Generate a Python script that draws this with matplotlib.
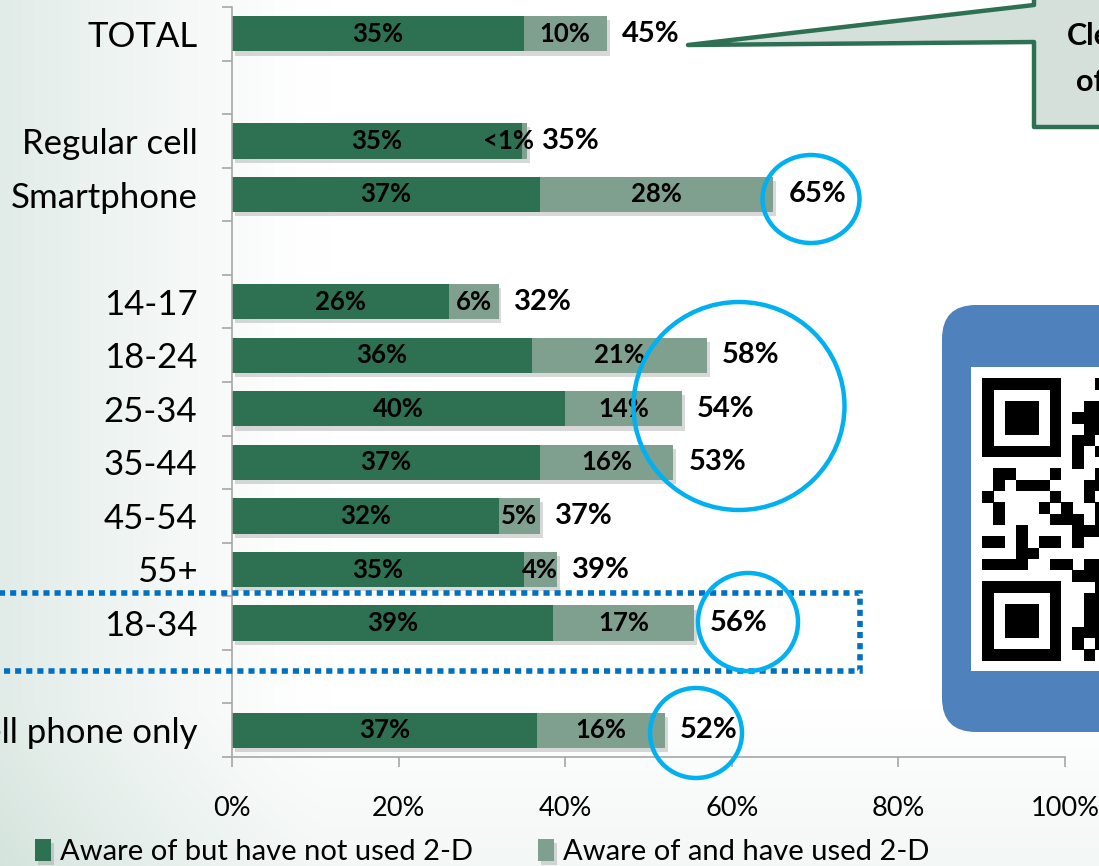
import numpy as np
import matplotlib
matplotlib.use('Agg')
import matplotlib.pyplot as plt
from matplotlib.patches import Polygon, Rectangle, Ellipse, FancyBboxPatch
import matplotlib.patheffects as pe

plt.rcParams['font.family'] = ['Lato', 'DejaVu Sans']

# chart data ('' = empty slot between groups)
categories = ['TOTAL', '', 'Regular cell', 'Smartphone', '', '14-17', '18-24', '25-34',
              '35-44', '45-54', '55+', '18-34', '', 'Cell phone only']
not_used = [35, None, 34.8, 37, None, 26, 36, 40, 37, 32, 35, 38.5, None, 36.6]
used = [10, None, 0.6, 28, None, 6, 21, 14, 16, 5, 4, 17, None, 15.4]
not_used_lbl = ['35%', '', '35%', '37%', '', '26%', '36%', '40%', '37%', '32%', '35%', '39%', '', '37%']
used_lbl = ['10%', '', '<1%', '28%', '', '6%', '21%', '14%', '16%', '5%', '4%', '17%', '', '16%']
total_lbl = ['45%', '', '35%', '65%', '', '32%', '58%', '54%', '53%', '37%', '39%', '56%', '', '52%']
xticks = [0, 20, 40, 60, 80, 100]
series_names = ['Aware of but have not used 2-D', 'Aware of and have used 2-D']

dark = '#2e7052'
light = '#7fa08e'
W, H = 1099, 866

fig = plt.figure(figsize=(W / 100, H / 100), dpi=100)

# soft background wash
bg = fig.add_axes([0, 0, 1, 1], zorder=-10)
bg.axis('off')
gx, gy = np.meshgrid(np.linspace(0, 1, 400), np.linspace(0, 1, 300))
t = 0.10 * np.clip(1 - gx / 0.3, 0, 1) ** 1.3 + 0.04 * np.clip((gy - 0.82) / 0.18, 0, 1)
left_col = np.array([0.80, 0.87, 0.84])
img = 1 - t[..., None] * (1 - left_col) / 0.17
bg.imshow(np.clip(img, 0, 1), extent=[0, 1, 0, 1], aspect='auto')

ax = fig.add_axes([232 / W, 1 - 757 / H, (1065 - 232) / W, 750 / H])
ax.patch.set_alpha(0)

idx = [i for i, c in enumerate(categories) if c != '']
y = np.array(idx)
a = np.array([not_used[i] for i in idx], dtype=float)
b = np.array([used[i] for i in idx], dtype=float)

shadow = [pe.SimplePatchShadow(offset=(2, -3), shadow_rgbFace='#808080', alpha=0.3), pe.Normal()]
bars1 = ax.barh(y, a, height=0.66, color=dark, label=series_names[0])
bars2 = ax.barh(y, b, left=a, height=0.66, color=light, label=series_names[1])
for r in list(bars1) + list(bars2):
    r.set_path_effects(shadow)

for k, i in enumerate(idx):
    ax.text(a[k] / 2, i, not_used_lbl[i], ha='center', va='center',
            fontsize=18.5, fontweight='bold', color='black')
    if b[k] < 1:
        ax.text(a[k] + b[k] + 0.8, i, used_lbl[i], ha='right', va='center',
                fontsize=18.5, fontweight='bold', color='black')
    else:
        ax.text(a[k] + b[k] / 2, i, used_lbl[i], ha='center', va='center',
                fontsize=18.5, fontweight='bold', color='black')
    ax.text(a[k] + b[k] + 1.8, i, total_lbl[i], ha='left', va='center',
            fontsize=21, fontweight='bold', color='black')

ax.set_xlim(0, 100)
ax.set_ylim(len(categories) - 0.5, -0.5)
ax.set_xticks(xticks)
ax.set_xticklabels([f'{v}%' for v in xticks], fontsize=19.5)
ax.tick_params(axis='x', length=7, width=1.2, color='#a6a6a6', pad=21)
ax.set_yticks(np.arange(len(categories) + 1) - 0.5)
ax.set_yticklabels([])
ax.tick_params(axis='y', which='major', length=7, width=1.2, color='#a6a6a6')
ax.set_yticks(y, minor=True)
ax.set_yticklabels([categories[i] for i in idx], minor=True, fontsize=25)
ax.tick_params(axis='y', which='minor', length=0, pad=25)
for s in ['top', 'right']:
    ax.spines[s].set_visible(False)
for s in ['left', 'bottom']:
    ax.spines[s].set_color('#a6a6a6')
    ax.spines[s].set_linewidth(1.2)

leg = ax.legend(handles=[bars1, bars2], loc='center left', ncol=2,
                bbox_to_anchor=(35 / W, 1 - 852 / H), bbox_transform=fig.transFigure,
                frameon=False, fontsize=21, handlelength=0.55, handleheight=0.75,
                handletextpad=0.3, columnspacing=2.25, borderpad=0, borderaxespad=0)

# overlay in pixel coordinates
ov = fig.add_axes([0, 0, 1, 1], zorder=10)
ov.set_xlim(0, W)
ov.set_ylim(H, 0)
ov.axis('off')
ov.patch.set_alpha(0)

# callout box
callout = Polygon([(1034, -20), (1034, 5), (688, 45), (1034, 42), (1034, 127),
                   (1120, 127), (1120, -20)], closed=True, facecolor='#d6e0db',
                  edgecolor='#2e7052', linewidth=3.2, joinstyle='round')
ov.add_patch(callout)
ov.text(1067, 36, 'Clear', fontsize=22, fontweight='bold', va='center', ha='left')
ov.text(1076, 82, 'of', fontsize=22, fontweight='bold', va='center', ha='left')

# QR code panel
ov.add_patch(FancyBboxPatch((942, 305), 220, 427, boxstyle='round,pad=0,rounding_size=34',
                            facecolor='#4f81bd', edgecolor='none'))
ov.add_patch(Rectangle((971, 367), 200, 304, facecolor='white', edgecolor='none'))
qr = ['11111110001', '10000010000', '10111010011', '10111010111', '10111010011',
      '10000010110', '11111110101', '00000000100', '01100010001', '01011100011',
      '10000010010', '01000101001', '01000011101', '00010000111', '11010110100',
      '00011000000', '11110011011', '00000000111', '11111110001', '10000010011',
      '10111010011', '10111010011', '10111010111', '10000010101', '11111110010']
m = 11.3
for r, row in enumerate(qr):
    for c, v in enumerate(row):
        if v == '1':
            ov.add_patch(Rectangle((982 + c * m, 378 + r * m), m + 0.3, m + 0.3,
                                   facecolor='black', edgecolor='none'))

# dotted highlight around 18-34
ov.add_patch(Rectangle((-20, 593), 880, 78, fill=False, edgecolor='#0070c0',
                       linewidth=4, linestyle=(0, (1.1, 0.9)), capstyle='butt'))

# circles
for cx, cy, w, h in [(811, 199, 97, 88), (739, 406, 211, 208),
                     (748, 622, 100, 98), (696, 733, 92, 90)]:
    ov.add_patch(Ellipse((cx, cy), w, h, fill=False, edgecolor='#00b0f0', linewidth=3.2))

fig.savefig('out.png', dpi=100)
